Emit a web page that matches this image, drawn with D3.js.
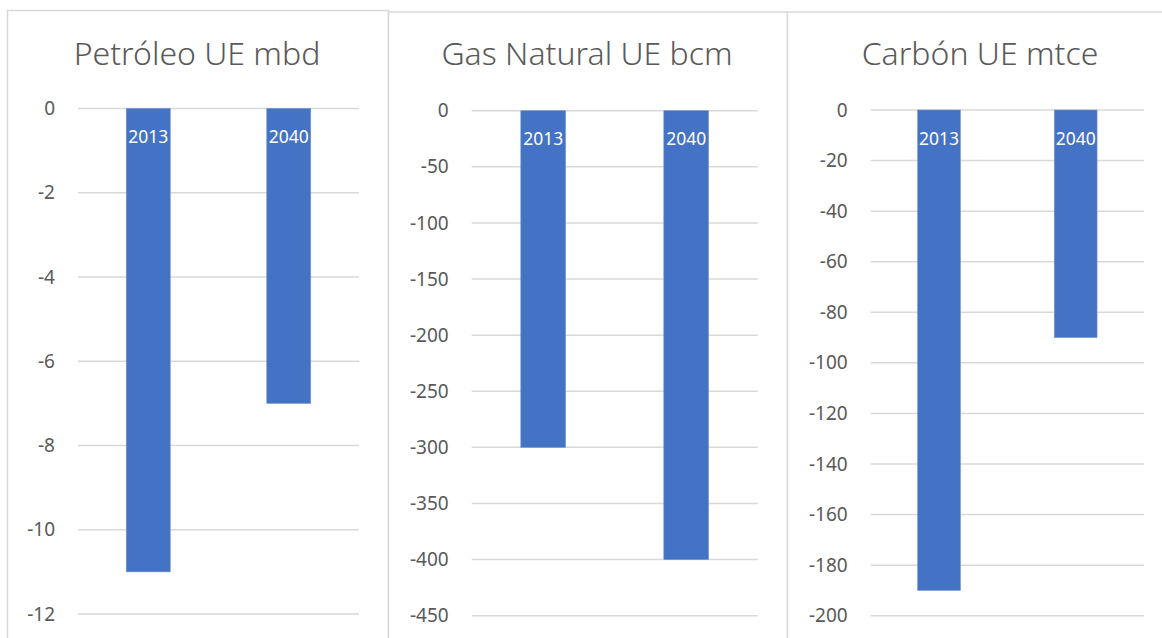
<html>
<head>
<meta charset="utf-8">
<script src="https://d3js.org/d3.v7.min.js"></script>
<style>
  body { margin: 0; background: #fff; }
  text { font-family: "Noto Sans", "Open Sans", sans-serif; }
</style>
</head>
<body>
<svg width="1162" height="638"></svg>
<script>
// data
var titles = ["Petróleo UE mbd", "Gas Natural UE bcm", "Carbón UE mtce"];
var years = ["2013", "2040"];
var petroleo = [-11, -7];
var gas = [-300, -400];
var carbon = [-190, -90];
var petroleoTicks = [0, -2, -4, -6, -8, -10, -12];
var gasTicks = [0, -50, -100, -150, -200, -250, -300, -350, -400, -450];
var carbonTicks = [0, -20, -40, -60, -80, -100, -120, -140, -160, -180, -200];

var series = [petroleo, gas, carbon];
var ticks = [petroleoTicks, gasTicks, carbonTicks];

// layout of each chart box
var boxes = [
  {bx: 7,   by: 10,   bw: 381, x0: 78,    x1: 359,  y0: 108.5, y1: 614,   titleX: 197},
  {bx: 388, by: 11.5, bw: 399, x0: 471.7, x1: 757.7, y0: 110.7, y1: 615.7, titleX: 587},
  {bx: 787, by: 11.5, bw: 400, x0: 870.7, x1: 1144, y0: 110,   y1: 615.7, titleX: 980}
];

var svg = d3.select("svg");
var barColor = "#4472C4", gridColor = "#d9d9d9", textColor = "#595959";

boxes.forEach(function(b, k) {
  var g = svg.append("g");

  g.append("rect")
    .attr("x", b.bx + 0.5).attr("y", b.by + 0.5)
    .attr("width", b.bw).attr("height", 700)
    .attr("fill", "#fff")
    .attr("stroke", gridColor).attr("stroke-width", 1.5);

  g.append("text")
    .attr("x", b.titleX).attr("y", 65)
    .attr("text-anchor", "middle")
    .attr("font-size", 32)
    .attr("font-weight", 300)
    .attr("fill", textColor)
    .text(titles[k]);

  var tv = ticks[k];
  var y = d3.scaleLinear().domain([0, d3.min(tv)]).range([b.y0, b.y1]);
  var x = d3.scaleBand().domain(years).range([b.x0, b.x1])
    .paddingInner(0.687).paddingOuter(0.3435);

  // gridlines
  g.append("g").selectAll("line").data(tv).join("line")
    .attr("x1", b.x0).attr("x2", b.x1)
    .attr("y1", d => y(d)).attr("y2", d => y(d))
    .attr("stroke", gridColor).attr("stroke-width", 1.5);

  // y axis labels
  var ax = g.append("g").attr("transform", "translate(" + b.x0 + ",0)")
    .call(d3.axisLeft(y).tickValues(tv).tickSize(0).tickPadding(23)
      .tickFormat(d => String(d)));
  ax.select(".domain").remove();
  ax.selectAll("text")
    .attr("font-size", 19)
    .attr("fill", textColor)
    .style("font-family", "'Noto Sans', sans-serif");

  var vals = series[k];
  g.append("g").selectAll("rect").data(vals).join("rect")
    .attr("x", (d, i) => x(years[i]))
    .attr("y", y(0))
    .attr("width", x.bandwidth())
    .attr("height", d => y(d) - y(0))
    .attr("fill", barColor)
    .attr("stroke", "#6f93d4").attr("stroke-width", 0.6);

  g.append("g").selectAll("text").data(vals).join("text")
    .attr("x", (d, i) => x(years[i]) + x.bandwidth() / 2)
    .attr("y", y(0) + 34.5)
    .attr("text-anchor", "middle")
    .attr("font-size", 17.5)
    .attr("fill", "#fff")
    .text((d, i) => years[i]);
});
</script>
</body>
</html>
